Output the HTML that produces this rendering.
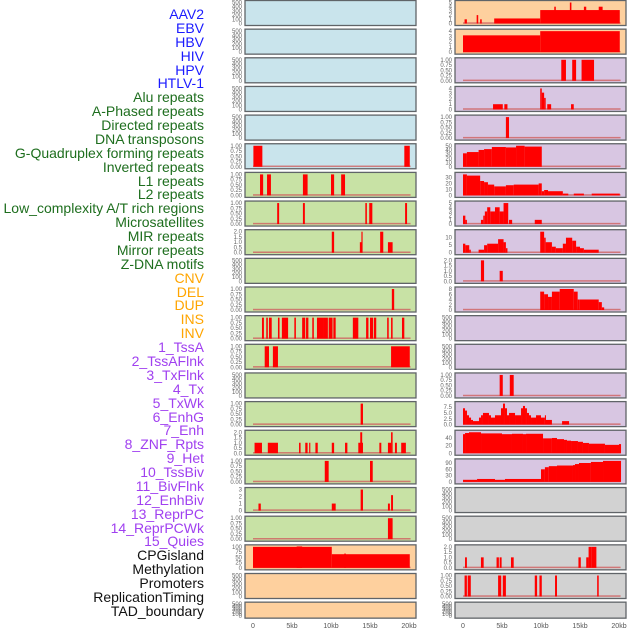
<!DOCTYPE html>
<html><head><meta charset="utf-8"><style>
html,body{margin:0;padding:0;background:#fff;width:630px;height:630px;overflow:hidden}
#lab{position:absolute;left:0;top:0;width:204px}
.l{position:absolute;right:0;font:14px "Liberation Sans",sans-serif;white-space:nowrap;line-height:14px}
svg{position:absolute;left:0;top:0}
</style></head><body>
<div id="lab"></div>
<svg id="c" width="630" height="630"></svg>
<script>
const labelNames=["AAV2","EBV","HBV","HIV","HPV","HTLV-1","Alu repeats","A-Phased repeats","Directed repeats","DNA transposons","G-Quadruplex forming repeats","Inverted repeats","L1 repeats","L2 repeats","Low_complexity A/T rich regions","Microsatellites","MIR repeats","Mirror repeats","Z-DNA motifs","CNV","DEL","DUP","INS","INV","1_TssA","2_TssAFlnk","3_TxFlnk","4_Tx","5_TxWk","6_EnhG","7_Enh","8_ZNF_Rpts","9_Het","10_TssBiv","11_BivFlnk","12_EnhBiv","13_ReprPC","14_ReprPCWk","15_Quies","CPGisland","Methylation","Promoters","ReplicationTiming","TAD_boundary"];
const labelColors=["#1a1aff","#1a1aff","#1a1aff","#1a1aff","#1a1aff","#1a1aff","#1e6e1e","#1e6e1e","#1e6e1e","#1e6e1e","#1e6e1e","#1e6e1e","#1e6e1e","#1e6e1e","#1e6e1e","#1e6e1e","#1e6e1e","#1e6e1e","#1e6e1e","#ffa500","#ffa500","#ffa500","#ffa500","#ffa500","#a040f0","#a040f0","#a040f0","#a040f0","#a040f0","#a040f0","#a040f0","#a040f0","#a040f0","#a040f0","#a040f0","#a040f0","#a040f0","#a040f0","#a040f0","#111","#111","#111","#111","#111"];
const xTicks=[0,5,10,15,20];
const xTickLabels=["0","5kb","10kb","15kb","20kb"];
const T500=[0,100,200,300,400,500], T1=[0,0.25,0.5,0.75,1], T2=[0,0.5,1,1.5,2];
// segments: [startKb, endKb, value]
const htlv=[[0.05,1.2,1],[19.4,20.1,1]];
const alu=[[0.9,1.3,1],[1.8,2.3,1],[6.4,7.0,1],[10.0,10.4,1],[11.3,11.8,1]];
const aphased=[[3.1,3.35,1],[6.4,6.65,1],[14.4,14.6,1],[14.9,15.3,1],[19.5,19.75,1]];
const dna=[[10.1,10.4,2],[13.7,14.0,1],[13.9,14.05,2],[16.3,16.7,2],[17.3,17.9,1]];
const inverted=[[17.8,18.1,1]];
const l1=[[1.15,1.4,1],[1.7,1.9,1],[2.05,2.4,1],[3.2,3.4,1],[3.7,4.5,1],[5.3,5.5,1],[6.3,6.7,1],[6.8,7.1,1],[7.6,7.8,1],[8.2,9.1,1],[9.1,9.6,1],[9.7,10.2,1],[10.3,10.6,1],[12.8,13.5,1],[14.5,14.8,1],[15.0,15.4,1],[15.5,15.8,1],[17.2,17.4,1],[17.7,17.9,1],[19.1,19.4,1]];
const l2=[[1.5,2.05,1],[2.55,3.2,1],[17.7,20.1,1]];
const micro=[[13.8,14.1,1]];
const mir=[[0.2,1.15,1],[1.9,3.2,1],[5.9,6.1,1],[6.7,7.0,1],[7.2,7.35,1],[8.0,8.3,1],[10.1,10.4,1],[11.8,12.1,1],[13.5,14.1,1],[13.75,14.0,2],[16.2,16.45,1],[17.3,17.7,1],[17.7,17.9,2],[18.2,18.45,1],[19.0,19.6,1]];
const mirror=[[9.2,9.7,1],[15.0,15.35,1]];
const zdna=[[0.7,1.0,1],[10.1,10.6,1],[13.8,14.1,3],[17.3,17.55,1],[17.7,17.95,2.2]];
const cnv=[[0.0,10.1,100],[5.6,6.3,102],[10.1,20.1,65],[11.7,11.9,68]];
const dup18=[[17.3,17.9,1]];
const ins=[[0.2,0.5,1],[1.75,1.95,2],[2.2,2.4,1],[4.0,9.9,1.2],[9.9,20.1,3.2],[11.7,11.9,4],[13.7,13.9,5],[15.5,15.8,4],[17.4,17.9,4]];
const inv=[[0.0,9.9,3.2],[9.9,20.1,4]];
const tssA=[[12.6,13.2,1],[14.0,14.5,1],[15.2,16.8,1]];
const tssAFlnk=[[3.85,5.1,1],[5.3,5.7,1],[9.9,10.1,4],[10.1,10.4,3.2],[10.4,10.6,2.2],[10.8,11.3,1],[13.85,14.2,1]];
const txFlnk=[[5.5,5.9,1]];
const tx=[[0,0.5,32],[0.5,2.0,35],[2.0,2.7,40],[2.7,3.7,42],[3.7,5.5,47],[5.5,6.8,46],[6.8,7.9,50],[7.9,10.1,48]];
const txWk=[[0,0.5,35],[0.5,2.2,33],[2.2,2.7,24],[2.7,3.2,22],[3.2,4.0,18],[4.0,5.5,15],[5.5,6.5,17],[6.5,9.7,18],[9.7,10.1,20],[10.1,10.4,7],[10.4,10.9,9],[10.9,12.8,7],[12.8,13.5,3],[14.2,15.5,3],[16.5,20.1,3]];
const enhG=[[0,0.3,2],[0.3,0.5,1],[2.3,2.6,1],[2.6,2.8,2],[2.8,3.1,3],[3.1,3.5,4],[3.5,4.1,3],[4.1,4.7,4],[4.7,5.2,3],[5.2,5.8,5],[5.9,6.3,1],[9.2,10.1,1]];
const enh=[[0,0.3,6],[0.3,0.8,5],[0.8,1.0,2],[2.0,2.7,2],[2.7,3.1,5],[3.1,4.5,6],[4.5,5.2,9],[5.2,5.5,7],[5.5,5.7,3],[9.9,10.4,14],[10.4,10.6,10],[10.6,11.4,7],[11.4,11.9,4],[11.9,12.8,3],[12.8,13.2,6],[13.2,14.0,10],[14.0,14.5,8],[14.5,15.0,4],[15.0,15.5,3],[15.5,17.4,2]];
const znf=[[2.3,2.7,2],[4.7,5.1,1]];
const het=[[9.9,10.4,7],[10.4,10.9,6],[10.9,11.4,5],[11.4,12.4,7],[12.4,14.2,8],[14.2,14.7,7],[14.7,14.9,4],[14.9,17.4,4],[17.4,17.8,3],[17.8,18.1,1]];
const enhBiv=[[4.7,5.1,1],[6.0,6.5,1]];
const reprPC=[[0,0.26,7],[0.26,0.51,6],[0.51,0.77,4],[0.77,1.03,3],[1.03,1.28,2],[1.28,2.05,1.5],[2.05,2.31,3],[2.31,2.56,4],[2.56,3.33,5],[3.33,3.59,4],[3.59,4.1,3],[4.1,4.87,4],[4.87,5.13,7],[5.13,5.38,9],[5.38,5.64,7],[5.64,5.9,4],[5.9,6.67,5],[6.67,7.44,4],[7.44,7.69,7],[7.69,7.95,8],[7.95,8.2,7],[8.2,8.46,5],[8.46,8.72,4],[8.72,9.36,3],[9.36,10.0,4],[10.0,10.5,3],[10.5,10.64,4],[10.64,11.4,2],[12.7,13.6,1.5]];
const reprPCWk=[[0,0.26,50],[0.26,0.77,53],[0.77,2.31,55],[2.31,5.0,52],[5.0,6.28,50],[6.28,7.69,51],[7.69,8.08,50],[8.08,10.26,51],[10.26,11.4,39],[11.4,12.05,40],[12.05,12.95,37],[12.95,13.33,35],[13.33,13.85,33],[13.85,14.74,32],[14.74,15.38,30],[15.38,16.15,27],[16.15,18.2,25],[18.2,20.0,22],[20.0,20.26,24]];
const quies=[[0,1.8,10],[1.8,4.1,14],[4.1,5.38,10],[5.38,10.0,14],[10.0,10.5,60],[10.5,11.0,70],[11.0,12.05,75],[12.05,14.1,78],[14.1,14.36,80],[14.36,14.87,85],[14.87,16.4,90],[16.4,17.95,95],[17.95,20.26,100]];
const promoters=[[0.26,0.5,1],[2.3,2.65,1],[4.3,4.6,1],[4.7,4.95,1],[6.15,6.5,1],[14.8,15.1,1],[15.8,16.1,1],[16.1,16.5,2],[16.5,17.1,2]];
const repTiming=[[0.2,0.5,1],[0.6,1.0,1],[4.5,4.9,1],[5.1,5.5,1],[9.2,9.5,1],[9.8,10.1,1],[11.8,12.05,1],[17.2,17.4,1]];
const BL="#c9e4ec",GR="#c8e2a5",OR="#fed09e",PU="#d8c6e2",GY="#d2d2d2";
// [column, row, bg, ticks, domainMax, segments]
const tracks=[
[0,0,BL,T500,500,null],[0,1,BL,T500,500,null],[0,2,BL,T500,500,null],[0,3,BL,T500,500,null],[0,4,BL,T500,500,null],[0,5,BL,T1,1,htlv],
[0,6,GR,T1,1,alu],[0,7,GR,T1,1,aphased],[0,8,GR,T2,2,dna],[0,9,GR,T500,500,null],[0,10,GR,T1,1,inverted],[0,11,GR,T1,1,l1],[0,12,GR,T1,1,l2],[0,13,GR,T500,500,null],[0,14,GR,T1,1,micro],[0,15,GR,T2,2,mir],[0,16,GR,T1,1,mirror],[0,17,GR,[0,1,2,3],3,zdna],[0,18,GR,T1,1,dup18],
[0,19,OR,[0,25,50,75,100],100,cnv],[0,20,OR,T500,500,null],[0,21,OR,T500,500,null],
[1,0,OR,[0,1,2,3,4,5],5,ins],[1,1,OR,[0,1,2,3,4],4,inv],
[1,2,PU,T1,1,tssA],[1,3,PU,[0,1,2,3,4],4,tssAFlnk],[1,4,PU,T1,1,txFlnk],[1,5,PU,[0,10,20,30,40,50],50,tx],[1,6,PU,[0,10,20,30],35,txWk],[1,7,PU,[0,1,2,3,4,5],5,enhG],[1,8,PU,[0,5,10],14,enh],[1,9,PU,T2,2,znf],[1,10,PU,[0,2,4,6,8],8,het],[1,11,PU,T500,500,null],[1,12,PU,T500,500,null],[1,13,PU,T1,1,enhBiv],[1,14,PU,[0,2.5,5,7.5],9,reprPC],[1,15,PU,[0,20,40],55,reprPCWk],[1,16,PU,[0,30,60,90],100,quies],
[1,17,GY,T500,500,null],[1,18,GY,T500,500,null],[1,19,GY,T2,2,promoters],[1,20,GY,T1,1,repTiming],[1,21,GY,T500,500,null]];
const NS="http://www.w3.org/2000/svg";
const svg=document.getElementById('c');
function mk(t,a,p){const e=document.createElementNS(NS,t);for(const k in a)e.setAttribute(k,a[k]);(p||svg).appendChild(e);return e;}
const lab=document.getElementById('lab');
labelNames.forEach((n,i)=>{const d=document.createElement('div');d.className='l';d.style.top=(7+i*13.88)+'px';d.style.color=labelColors[i];d.textContent=n;


lab.appendChild(d);});
const colX=[245,455], PW=171;
function xs(col,kb){return colX[col]+8+kb*7.8;}
function fmt(v,t){if(t[t.length-1]<=2&&t.includes(0.25))return v.toFixed(2);if(t[t.length-1]<=2&&t.includes(0.5))return v.toFixed(1);if(t.includes(2.5))return v.toFixed(1);return String(v);}
tracks.forEach(tr=>{
 const [col,row,bg,ticks,dmax,segs]=tr;
 const top=row*28.65+0.5, h=row===21?16:25;
 const g=mk('g',{});
 
 
 const yb=top+h-2, yt=top+2;
 const ys=v=>yb-(v/dmax)*(yb-yt);
 mk('rect',{x:colX[col],y:top,width:PW,height:h,fill:bg,stroke:'#606468','stroke-width':1.3},g);
 ticks.forEach(t=>{const tx=mk('text',{x:colX[col]-3,y:ys(t)+2,'text-anchor':'end','font-family':'Liberation Sans, sans-serif','font-size':6,fill:'#666'},g);tx.textContent=fmt(t,ticks);
 
 });
 if(segs){
  mk('rect',{x:xs(col,0),y:yb-1.2,width:xs(col,20.2)-xs(col,0),height:1.5,fill:'#d06060',opacity:0.8},g);
  segs.forEach(s=>{const r=mk('rect',{x:xs(col,s[0]),y:ys(s[2]),width:Math.max(1,xs(col,s[1])-xs(col,s[0])),height:yb-ys(s[2]),fill:'#ff0000'},g);
  
  });
 }
});
[0,1].forEach(col=>{xTicks.forEach((t,i)=>{const tx=mk('text',{x:xs(col,t),y:628,'text-anchor':'middle','font-family':'Liberation Sans, sans-serif','font-size':7,fill:'#555'});tx.textContent=xTickLabels[i];

});});
</script>
</body></html>
